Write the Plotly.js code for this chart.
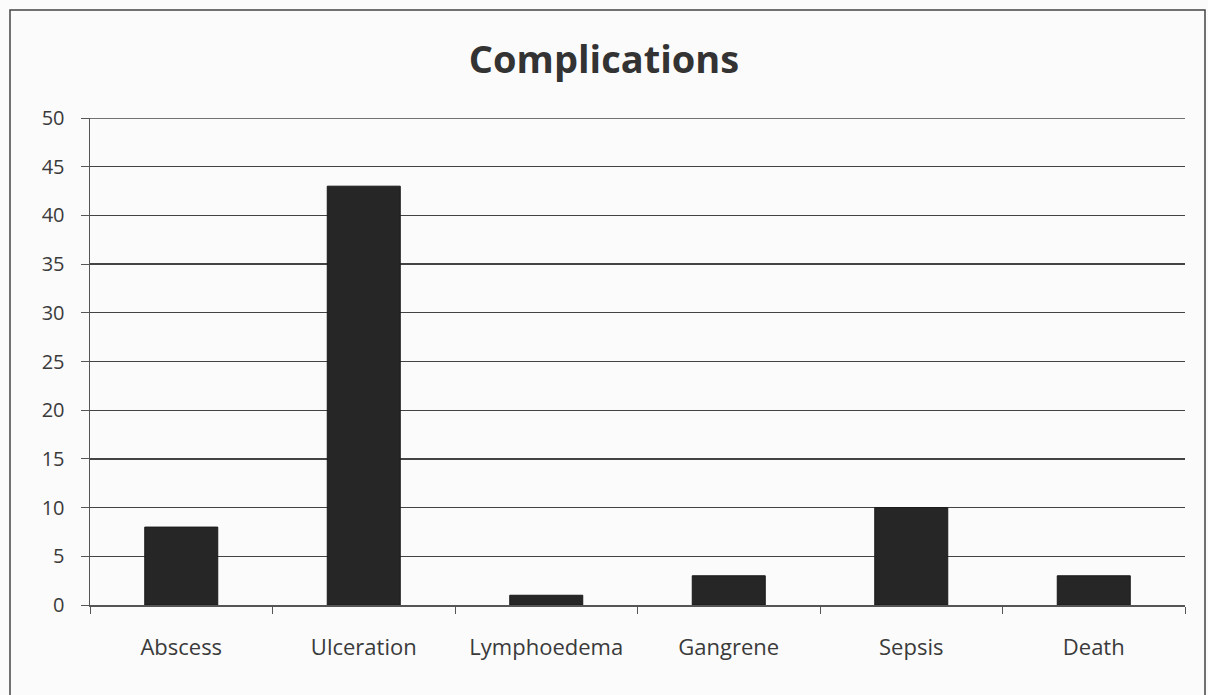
<!DOCTYPE html>
<html>
<head>
<meta charset="utf-8">
<script src="https://cdn.plot.ly/plotly-3.0.1.min.js"></script>
<style>html,body{margin:0;padding:0;background:#fff;}#chart{width:1208px;height:695px;}</style>
</head>
<body>
<div id="chart"></div>
<script>
const categories = ["Abscess", "Ulceration", "Lymphoedema", "Gangrene", "Sepsis", "Death"];
const values = [8, 43, 1, 3, 10, 3];
const yTicks = [0, 5, 10, 15, 20, 25, 30, 35, 40, 45, 50];
const yMax = 50;

const trace = {
  type: "bar",
  x: categories,
  y: values,
  marker: {color: "#262626", line: {color: "#1a1a1a", width: 1}},
  hoverinfo: "x+y"
};

const layout = {
  width: 1208,
  height: 695,
  margin: {l: 90, r: 23, t: 118, b: 90},
  paper_bgcolor: "#fbfbfb",
  plot_bgcolor: "rgba(0,0,0,0)",
  font: {family: "'Open Sans', sans-serif", color: "#3a3a3a", size: 20},
  title: {
    text: "<b>Complications</b>",
    font: {family: "'Open Sans', sans-serif", size: 38, color: "#333"},
    x: 0.5, xanchor: "center",
    y: 1 - 60/695, yanchor: "middle"
  },
  bargap: 0.6,
  showlegend: false,
  xaxis: {
    type: "category",
    showline: true, linecolor: "#555", linewidth: 1.5,
    ticks: "outside", tickson: "boundaries", ticklen: 7, tickcolor: "#555",
    ticklabelstandoff: 22,
    showgrid: false,
    tickfont: {size: 22, color: "#3a3a3a"}
  },
  yaxis: {
    range: [0, yMax],
    tickvals: yTicks,
    showline: true, linecolor: "#555", linewidth: 1.5,
    ticks: "outside", ticklen: 8, tickcolor: "#555",
    ticklabelstandoff: 12,
    showgrid: true, gridcolor: "#444", gridwidth: 1.3,
    zeroline: false,
    tickfont: {size: 20, color: "#3a3a3a"}
  },
  shapes: [{
    type: "rect", xref: "paper", yref: "paper",
    x0: (10-90)/1095, x1: (1205-90)/1095,
    y0: (605-700)/487, y1: (605-10)/487,
    line: {color: "#444", width: 1.5}, fillcolor: "rgba(0,0,0,0)", layer: "below"
  }, {
    type: "line", xref: "paper", yref: "y",
    x0: 0, x1: 1, y0: yMax, y1: yMax,
    line: {color: "#444", width: 1.3}, layer: "below"
  }]
};

Plotly.newPlot("chart", [trace], layout, {displayModeBar: false, staticPlot: true});
</script>
</body>
</html>
